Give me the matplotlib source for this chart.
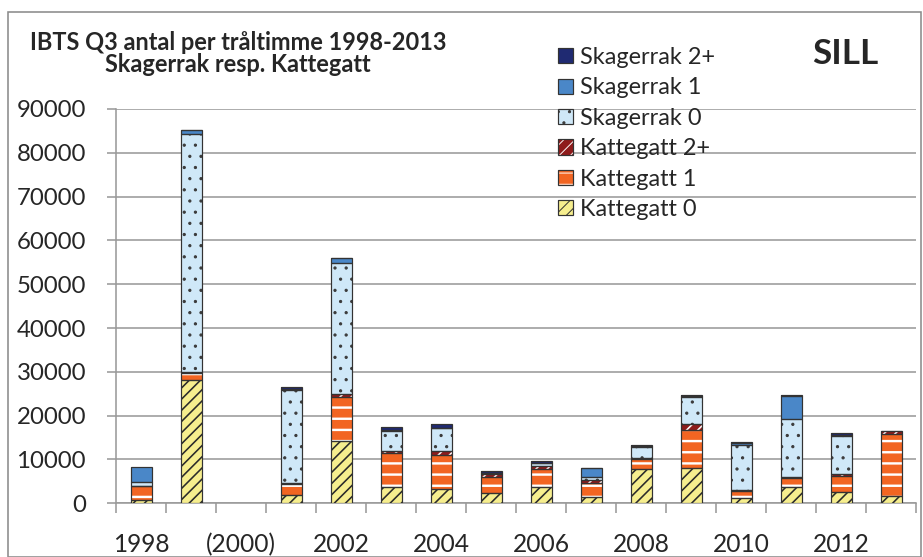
import matplotlib
matplotlib.use("Agg")
import matplotlib.pyplot as plt
from matplotlib.patches import Rectangle
from matplotlib.legend_handler import HandlerTuple
import numpy as np

# figure is drawn at a low dpi so the hatch spacing comes out like the original
DPI = 67
W, H = 923, 557


def pt(px):
    return px * 72.0 / DPI


years = list(range(1998, 2014))
year_labels = ["1998", "(2000)", "2002", "2004", "2006", "2008", "2010", "2012"]

kattegatt_0 = [700, 28200, 0, 2000, 14300, 3800, 3300, 2300, 3800, 1500, 7800, 8100, 1100, 3800, 2600, 1700]
kattegatt_1 = [3200, 1500, 0, 2500, 9900, 7600, 7800, 3800, 4000, 3200, 2300, 8600, 1800, 1900, 3700, 14100]
kattegatt_2p = [100, 300, 0, 100, 700, 550, 900, 500, 600, 600, 200, 1500, 200, 300, 300, 600]
skagerrak_0 = [900, 54300, 0, 21300, 30000, 4600, 5100, 300, 700, 600, 2600, 6100, 10100, 13300, 8800, 0]
skagerrak_1 = [3300, 900, 0, 300, 1100, 100, 100, 100, 100, 2200, 100, 100, 500, 5300, 300, 0]
skagerrak_2p = [0, 100, 0, 300, 100, 800, 800, 400, 450, 50, 200, 300, 300, 100, 300, 100]

# name, values, fill, hatch, hatch colour, hatch width (px)
series = [
    ("Kattegatt 0", kattegatt_0, "#f6ee8e", "//", "#2a2a2a", 1.6),
    ("Kattegatt 1", kattegatt_1, "#f26522", "-", "white", 2.4),
    ("Kattegatt 2+", kattegatt_2p, "#8e1b1b", "//", "white", 1.6),
    ("Skagerrak 0", skagerrak_0, "#cfe8f8", ".", "#3a3a3a", 1.0),
    ("Skagerrak 1", skagerrak_1, "#4a87c8", None, None, 1.0),
    ("Skagerrak 2+", skagerrak_2p, "#1f2a72", None, None, 1.0),
]

plt.rcParams["font.family"] = ["Lato", "DejaVu Sans"]
text_color = "#262626"
grid_color = "#9a9a9a"

fig = plt.figure(figsize=(W / DPI, H / DPI), dpi=DPI)
ax = fig.add_axes([116 / W, 1 - 503.3 / H, 800 / W, 394.3 / H])

x = np.arange(len(years))
bottom = np.zeros(len(years))
handles = []
for name, vals, color, hatch, hcolor, hlw in series:
    vals = np.array(vals, dtype=float)
    keep = vals > 0
    with plt.rc_context({"hatch.linewidth": pt(hlw)}):
        fill = ax.bar(x[keep], vals[keep], 0.42, bottom=bottom[keep], color=color,
                      hatch=hatch, edgecolor=hcolor if hcolor else color,
                      linewidth=0, zorder=3)
    outline = ax.bar(x[keep], vals[keep], 0.42, bottom=bottom[keep], facecolor="none",
                     edgecolor="#333333", linewidth=pt(1.2), zorder=4)
    handles.append((fill[0], outline[0], name))
    bottom += vals

ax.set_xlim(-0.5, len(years) - 0.5)
ax.set_ylim(0, 90000)
ax.set_yticks(np.arange(0, 90001, 10000))
ax.set_xticks(x[::2])
ax.set_xticklabels(year_labels)
ax.set_xticks(np.arange(-0.5, len(years)), minor=True)

ax.yaxis.grid(True, color=grid_color, linewidth=pt(1.6), zorder=0)
ax.set_axisbelow(True)
for side in ("top", "right"):
    ax.spines[side].set_visible(False)
for side in ("left", "bottom"):
    ax.spines[side].set_color(grid_color)
    ax.spines[side].set_linewidth(pt(1.6))

ax.tick_params(axis="y", length=pt(9), width=pt(1.6), color=grid_color,
               pad=pt(21), labelsize=pt(24), labelcolor=text_color)
ax.tick_params(axis="x", which="major", length=0, pad=pt(30),
               labelsize=pt(24.5), labelcolor=text_color)
ax.tick_params(axis="x", which="minor", length=pt(10), width=pt(1.6),
               color=grid_color)

leg_handles = [(f, o) for f, o, _ in handles][::-1]
leg_labels = [n for _, _, n in handles][::-1]
ax.legend(leg_handles, leg_labels, handler_map={tuple: HandlerTuple(ndivide=1)},
          loc="upper left", bbox_to_anchor=(558 / W, 1 - 47 / H),
          bbox_transform=fig.transFigure, frameon=False,
          prop={"size": pt(23.5)}, labelcolor=text_color,
          handlelength=0.62, handleheight=0.62, handletextpad=0.3,
          labelspacing=0.40, borderpad=0, borderaxespad=0)

fig.text(238 / W, 1 - 42 / H, "IBTS Q3 antal per tråltimme 1998-2013",
         ha="center", va="center", fontsize=pt(23.5), fontweight="bold",
         color=text_color)
fig.text(238 / W, 1 - 65 / H, "Skagerrak resp. Kattegatt",
         ha="center", va="center", fontsize=pt(23.5), fontweight="bold",
         color=text_color)
fig.text(845 / W, 1 - 54 / H, "SILL", ha="center", va="center",
         fontsize=pt(35), fontweight="bold", color=text_color)

fig.patches.append(Rectangle((8 / W, 0), (921 - 8) / W, 1 - 12 / H,
                             transform=fig.transFigure, fill=False,
                             edgecolor="#8c8c8c", linewidth=pt(1.6)))

fig.savefig("out.png", dpi=DPI)
